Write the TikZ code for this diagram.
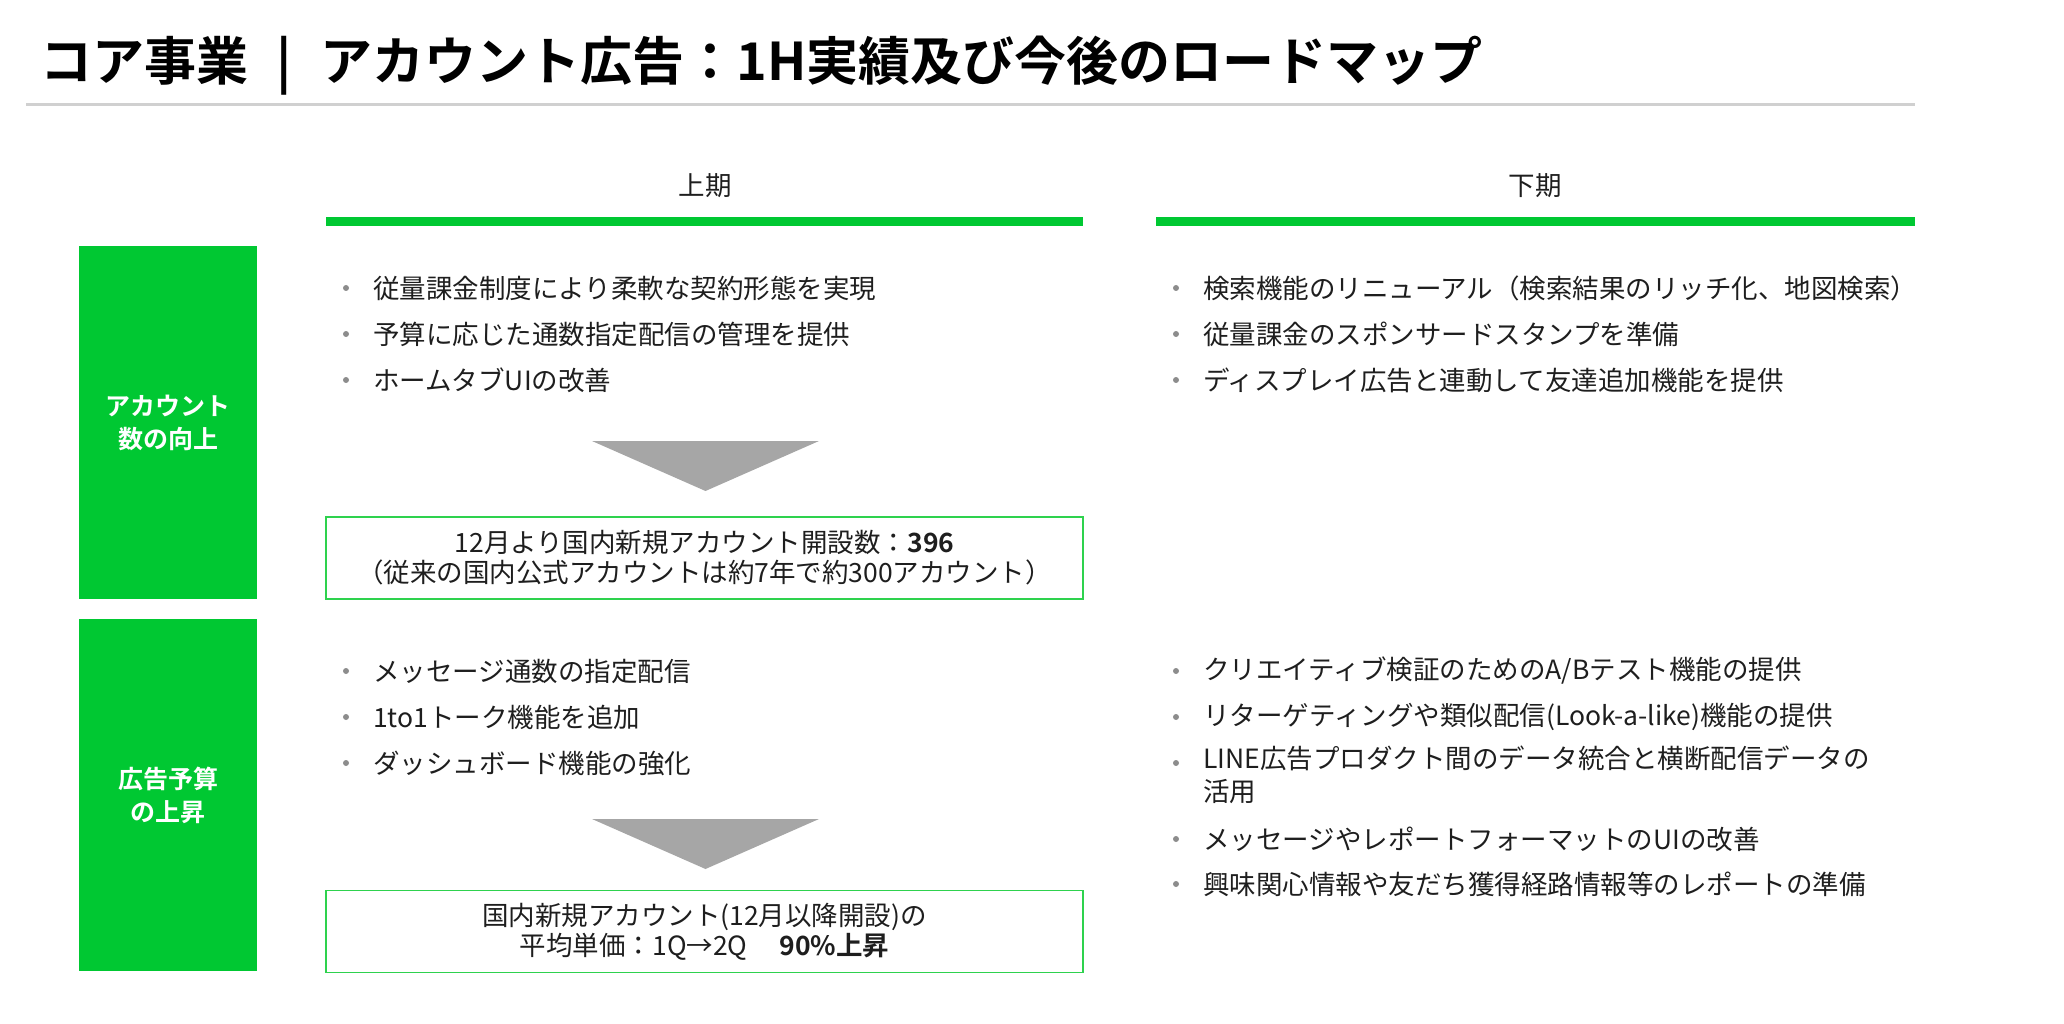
\documentclass[tikz,border=0pt]{standalone}
\usepackage{fontspec}
\setmainfont{Noto Sans CJK JP}[BoldFont={Noto Sans CJK JP Bold}]
\definecolor{lgreen}{HTML}{00C832}
\definecolor{bgreen}{HTML}{2ED24E}
\definecolor{tcol}{HTML}{1E1E1E}
\definecolor{dotgray}{HTML}{8C8C8C}
\definecolor{trigray}{HTML}{A6A6A6}
\definecolor{rulegray}{HTML}{D0D0D0}
\newcommand\bul[4]{%
  \node[bdot] (#1d) at (#2-27,#3) {};
  \node[txt] (#1) at (#2,#3) {#4};}
\begin{document}
\begin{tikzpicture}[x=1pt,y=-1pt,
  txt/.style={anchor=west,inner sep=0pt,align=left,font=\fontsize{26.5}{33}\selectfont,text=tcol},
  bdot/.style={circle,fill=dotgray,inner sep=0pt,minimum size=6pt},
  lab/.style={fill=lgreen,minimum width=178pt,minimum height=352pt,align=center,text=white,
    font=\fontsize{25}{33}\selectfont\bfseries,inner sep=0pt},
  resbox/.style={draw=bgreen,line width=1.8pt,minimum width=757pt,minimum height=82pt,
    align=center,inner sep=0pt,text=tcol,font=\fontsize{26.5}{30}\selectfont},
  hdr/.style={inner sep=0pt,text=tcol,font=\fontsize{26.5}{33}\selectfont},
  bar/.style={fill=lgreen,draw=none,minimum height=9pt,inner sep=0pt},
  tri/.style={fill=trigray,draw=none}
]
\useasboundingbox (0,0) rectangle (2064,1024);

% title and rule
\node[anchor=west,inner sep=0pt,font=\fontsize{52}{60}\selectfont\bfseries,text=black] (title) at (40,66)
  {コア事業\hspace{0.55em}|\hspace{0.55em}アカウント広告：1H実績及び今後のロードマップ};
\coordinate (ruleL) at (26,105);
\coordinate (ruleR) at (1915,105);
\draw[rulegray,line width=3pt] (ruleL) -- (ruleR);

% column headers
\node[hdr] (h1) at (705,186) {上期};
\node[hdr] (h2) at (1535,186) {下期};
\node[bar,minimum width=757pt] (bar1) at (704.5,221.5) {};
\node[bar,minimum width=759pt] (bar2) at (1535.5,221.5) {};

% row labels
\node[lab] (lab1) at (168,422.5) {アカウント\\数の向上};
\node[lab] (lab2) at (168,795) {広告予算\\の上昇};

% top-left bullets
\bul{a1}{373}{288}{従量課金制度により柔軟な契約形態を実現}
\bul{a2}{373}{334}{予算に応じた通数指定配信の管理を提供}
\bul{a3}{373}{380}{ホームタブUIの改善}

% arrow 1
\coordinate (t1a) at (592,441);
\coordinate (t1b) at (819,441);
\coordinate (t1c) at (705.5,491);
\fill[tri] (t1a) -- (t1b) -- (t1c) -- cycle;

\node[resbox] (res1) at (704.5,558)
  {12月より国内新規アカウント開設数：\textbf{396}\\（従来の国内公式アカウントは約7年で約300アカウント）};

% top-right bullets
\bul{b1}{1203}{288}{検索機能のリニューアル（検索結果のリッチ化、地図検索）}
\bul{b2}{1203}{334}{従量課金のスポンサードスタンプを準備}
\bul{b3}{1203}{380}{ディスプレイ広告と連動して友達追加機能を提供}

% bottom-left bullets
\bul{c1}{373}{671}{メッセージ通数の指定配信}
\bul{c2}{373}{717}{1to1トーク機能を追加}
\bul{c3}{373}{763}{ダッシュボード機能の強化}

% arrow 2
\coordinate (t2a) at (592,819);
\coordinate (t2b) at (819,819);
\coordinate (t2c) at (705.5,869);
\fill[tri] (t2a) -- (t2b) -- (t2c) -- cycle;

\node[resbox] (res2) at (704.5,931.5)
  {国内新規アカウント(12月以降開設)の\\平均単価：1Q→2Q\hspace{1.2em}\textbf{90\%上昇}};

% bottom-right bullets
\bul{d1}{1203}{671}{クリエイティブ検証のためのA/Bテスト機能の提供}
\bul{d2}{1203}{717}{リターゲティングや類似配信(Look-a-like)機能の提供}
\node[bdot] (d3d) at (1176,763) {};
\node[txt,anchor=north west] (d3) at (1203,746) {LINE広告プロダクト間のデータ統合と横断配信データの\\活用};
\bul{d4}{1203}{839}{メッセージやレポートフォーマットのUIの改善}
\bul{d5}{1203}{884}{興味関心情報や友だち獲得経路情報等のレポートの準備}
\end{tikzpicture}
\end{document}
